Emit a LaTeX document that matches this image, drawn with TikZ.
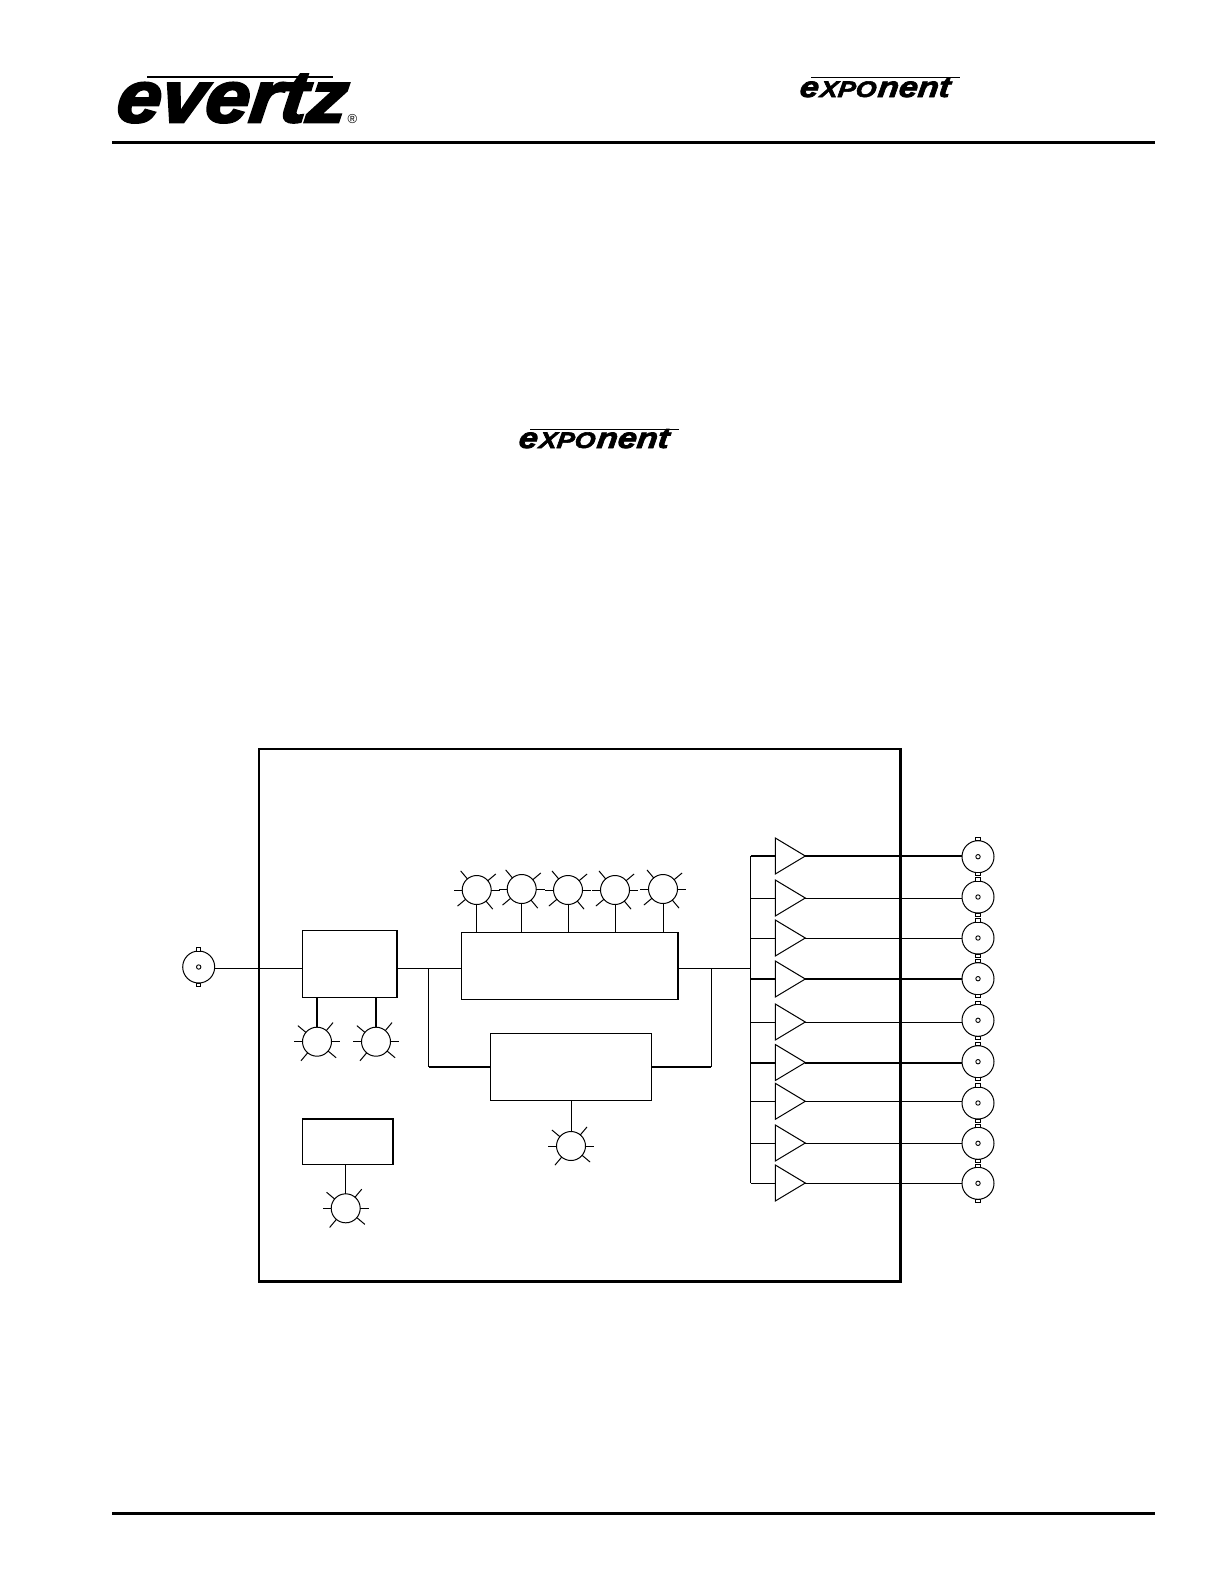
\documentclass[tikz,border=0pt]{standalone}
\usepackage{fontspec}
\usetikzlibrary{shapes.geometric}
\newfontfamily\evertzfont[FakeStretch=1.09,FakeBold=3.5,FakeSlant=0.12]{Liberation Sans}
\newfontfamily\exponentfont[FakeStretch=1.18,FakeBold=2.5,FakeSlant=0.12]{Liberation Sans}
\newfontfamily\regfont{Liberation Sans}

\tikzset{
  wire/.style={line width=1pt},
  wireheavy/.style={line width=2pt},
  frameline/.style={line width=2.6pt},
  pagerule/.style={line width=3pt},
  card/.style={draw,line width=1pt,inner sep=0pt,outer sep=0pt},
  led/.style={draw,circle,line width=1pt,inner sep=0pt,outer sep=0pt,minimum size=29pt},
  bnc/.style={draw,circle,line width=1pt,inner sep=0pt,outer sep=0pt,minimum size=32pt},
  bnchole/.style={draw,circle,line width=0.9pt,inner sep=0pt,minimum size=4.4pt},
  ampl/.style={draw,isosceles triangle,isosceles triangle stretches,shape border rotate=0,
    line width=1pt,inner sep=0pt,outer sep=0pt,minimum width=36pt,minimum height=30pt,anchor=lower side},
  logo/.style={inner sep=0pt,outer sep=0pt,anchor=base west}
}

% logo word, with its middle letters drawn as tall as the rest
\newcommand{\expword}{\exponentfont\bfseries\itshape\fontsize{29}{29}\selectfont
  e\kern1.5pt{\fontsize{22.5}{22.5}\selectfont XPO}\kern1.5pt nent}

% rays round a lamp, #2 is the angle of the first slanted one
\newcommand{\ledrays}[2]{
  \foreach \a/\l in {0/8.5,180/8.5,#2/10.5,#2+90/10.5,#2+180/10.5,#2+270/10.5} {
    \pgfmathsetmacro{\b}{\a}
    \draw [wire] (#1.\b) -- +(canvas polar cs:angle=\b,radius=\l pt);
  }
}
% lugs and centre pin of a connector
\newcommand{\bncparts}[1]{
  \draw [line width=0.9pt,fill=white] ([xshift=-2.2pt]#1.north) rectangle ([xshift=2.2pt,yshift=3.2pt]#1.north);
  \draw [line width=0.9pt,fill=white] ([xshift=-2.2pt]#1.south) rectangle ([xshift=2.2pt,yshift=-3.2pt]#1.south);
  \node [bnchole] (#1pin) at (#1.center) {};
}

\begin{document}
\begin{tikzpicture}[x=1pt,y=-1pt]
\useasboundingbox (0,0) rectangle (1225,1585);
\fill [white] (0,0) rectangle (1225,1585);

% page furniture
\coordinate (rule1a) at (112,142);
\coordinate (rule1b) at (1155,142);
\coordinate (rule2a) at (112,1513);
\coordinate (rule2b) at (1155,1513);
\draw [pagerule] (rule1a) -- (rule1b);
\draw [pagerule] (rule2a) -- (rule2b);

\node [logo] (evertz) at (115,122) {\evertzfont\bfseries\itshape\fontsize{73}{73}\selectfont evertz};
\node [logo] (regmark) at (347.5,123) {\regfont\fontsize{13}{13}\selectfont ®};
\coordinate (evertzlinea) at (147,77);
\coordinate (evertzlineb) at (333,77);
\draw [line width=1.3pt] (evertzlinea) -- (evertzlineb);

\node [logo] (expa) at (799,97) {\expword};
\coordinate (expalinea) at (811,77.5);
\coordinate (expalineb) at (960,77.5);
\draw [line width=1pt] (expalinea) -- (expalineb);

\node [logo] (expb) at (518,448) {\expword};
\coordinate (expblinea) at (530,429);
\coordinate (expblineb) at (679,429);
\draw [line width=1pt] (expblinea) -- (expblineb);

% frame
\coordinate (framea) at (259,749);
\coordinate (frameb) at (900.5,1281.5);
\draw [frameline] (framea) rectangle (frameb);

% blocks
\node [card,minimum width=95pt,minimum height=67pt] (dist) at (349.7,963.8) {};
\node [card,minimum width=216.6pt,minimum height=66.7pt] (eqa) at (570,965.7) {};
\node [card,minimum width=161.4pt,minimum height=67pt] (eqb) at (571,1066.8) {};
\node [card,minimum width=91pt,minimum height=45.3pt] (psu) at (347.8,1141.6) {};
\draw [wireheavy] (dist.north east) -- (dist.south east);
\draw [wireheavy] (eqa.north east) -- (eqa.south east);
\draw [wireheavy] (psu.north west) -- (psu.north east) -- (psu.south east);

% input
\coordinate (splita) at (428.7,968);
\coordinate (splitb) at (750.7,968);
\node [bnc] (inbnc) at (198.7,967) {};
\bncparts{inbnc}
\draw [wire] (inbnc.east |- splita) -- (dist.west |- splita);

% lamps
\node [led] (leda) at (317,1041.7) {};
\node [led] (ledb) at (376,1041.7) {};
\node [led] (ledc) at (571,1146) {};
\node [led] (ledd) at (345.7,1208.3) {};
\foreach \n in {leda,ledb,ledc,ledd} { \ledrays{\n}{50} }

\foreach \i/\x/\y in {1/476.7/890,2/521.7/889,3/568/890,4/615/890,5/663/889} {
  \node [led] (top\i) at (\x,\y) {};
  \ledrays{top\i}{40}
  \draw [wire] (top\i.south) -- (top\i.south |- eqa.north);
}

\draw [wireheavy] (leda.north) -- (leda.north |- dist.south);
\draw [wireheavy] (ledb.north) -- (ledb.north |- dist.south);
\draw [wire] (ledc.north) -- (ledc.north |- eqb.south);
\draw [wire] (ledd.north) -- (ledd.north |- psu.south);

% signal path
\draw [wire] (dist.east |- splita) -- (eqa.west |- splita);
\draw [wire] (eqa.east |- splitb) -- (splitb);
\draw [wire] (splita) -- (splita |- eqb.west);
\draw [wireheavy] (splita |- eqb.west) -- (eqb.west);
\coordinate (splitc) at (711.3,1067);
\draw [wire] (splitc) -- (splitc |- splita);
\draw [wireheavy] (eqb.east |- splitc) -- (splitc);

% outputs
\coordinate (bustop) at (750.7,856);
\coordinate (busend) at (750.7,1183);
\draw [wire] (bustop) -- (busend);

\foreach \i/\y/\b/\w in {1/856/856.7/wireheavy,2/898/897/wire,3/938/938/wire,4/979/978.7/wireheavy,
  5/1022/1020.3/wire,6/1062.5/1061.7/wireheavy,7/1101.3/1103/wire,8/1143/1143.3/wire,9/1183/1183.3/wire} {
  \node [ampl] (amp\i) at (775.3,\y) {};
  \node [bnc] (out\i) at (978,\b) {};
  \draw [\w] (amp\i.lower side -| bustop) -- (amp\i.lower side);
  \draw [\w] (amp\i.apex) -- (amp\i.apex -| out\i.west);
}
\foreach \n in {out1,out2,out3,out4,out5,out6,out7,out8,out9} { \bncparts{\n} }
\end{tikzpicture}
\end{document}
